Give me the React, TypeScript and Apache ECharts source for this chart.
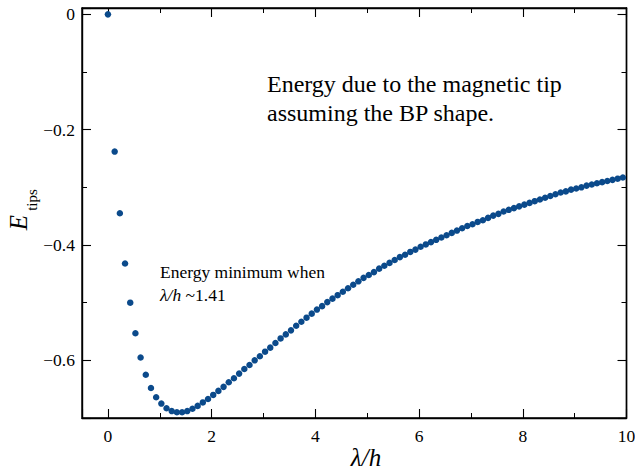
import React, { useEffect, useRef } from "react";
import * as echarts from "echarts";

const xValues = [
  0, 0.13, 0.23, 0.33, 0.43, 0.53, 0.63, 0.73, 0.83, 0.93,
  1.03, 1.13, 1.23, 1.33, 1.43, 1.53, 1.63, 1.73, 1.83, 1.93,
  2.03, 2.13, 2.23, 2.33, 2.43, 2.53, 2.63, 2.73, 2.83, 2.93,
  3.03, 3.13, 3.23, 3.33, 3.43, 3.53, 3.63, 3.73, 3.83, 3.93,
  4.03, 4.13, 4.23, 4.33, 4.43, 4.53, 4.63, 4.73, 4.83, 4.93,
  5.03, 5.13, 5.23, 5.33, 5.43, 5.53, 5.63, 5.73, 5.83, 5.93,
  6.03, 6.13, 6.23, 6.33, 6.43, 6.53, 6.63, 6.73, 6.83, 6.93,
  7.03, 7.13, 7.23, 7.33, 7.43, 7.53, 7.63, 7.73, 7.83, 7.93,
  8.03, 8.13, 8.23, 8.33, 8.43, 8.53, 8.63, 8.73, 8.83, 8.93,
  9.03, 9.13, 9.23, 9.33, 9.43, 9.53, 9.63, 9.73, 9.83, 9.93,
];

const energyValues = [
  0, -0.238, -0.345, -0.432, -0.5, -0.553, -0.595, -0.625, -0.648, -0.664,
  -0.675, -0.683, -0.688, -0.69, -0.69, -0.688, -0.684, -0.679, -0.673, -0.667,
  -0.66, -0.653, -0.646, -0.638, -0.631, -0.623, -0.615, -0.608, -0.6, -0.593,
  -0.585, -0.578, -0.57, -0.562, -0.555, -0.548, -0.54, -0.533, -0.526, -0.519,
  -0.512, -0.506, -0.499, -0.493, -0.487, -0.481, -0.475, -0.469, -0.463, -0.457,
  -0.452, -0.447, -0.441, -0.436, -0.431, -0.426, -0.421, -0.417, -0.412, -0.408,
  -0.403, -0.399, -0.395, -0.391, -0.387, -0.383, -0.379, -0.375, -0.371, -0.367,
  -0.364, -0.36, -0.357, -0.353, -0.349, -0.346, -0.342, -0.339, -0.336, -0.333,
  -0.33, -0.327, -0.324, -0.321, -0.318, -0.315, -0.312, -0.309, -0.307, -0.304,
  -0.302, -0.3, -0.297, -0.295, -0.293, -0.291, -0.289, -0.287, -0.285, -0.283,
];

const xRange = [-0.5, 10];
const yRange = [-0.7, 0.011];
const xStep = 2;
const yStep = 0.2;

const annotationMain = ["Energy due to the magnetic tip", "assuming the BP shape."];
const annotationMin = ["Energy minimum when", "{i|λ/h} ~1.41"];

const SERIF = "Liberation Serif";
const DOT = "#0b4a8b";

function fmt(v: number): string {
  if (Math.abs(v) < 1e-9) return "0";
  const s = Math.abs(v) >= 1 || Number.isInteger(v) ? String(Math.abs(v)) : Math.abs(v).toFixed(1);
  return v < 0 ? "\u2212" + s : s;
}

export default function App() {
  const ref = useRef<HTMLDivElement>(null);

  useEffect(() => {
    if (!ref.current) return;
    const chart = echarts.init(ref.current, undefined, { renderer: "svg" });

    const axisLine = { show: true, onZero: false, lineStyle: { color: "#000", width: 1.4 } };
    const axisTick = { show: true, inside: true, length: 9, lineStyle: { color: "#000", width: 1.1 } };
    const minorTick = { show: true, splitNumber: 2, length: 5, lineStyle: { color: "#000", width: 1 } };
    const labelStyle = { color: "#000", fontSize: 17.5, fontFamily: SERIF };
    const points = xValues.map((x, i) => [x, energyValues[i]]);

    chart.setOption({
      animation: false,
      grid: {
        left: 82,
        right: 8.5,
        top: 8,
        bottom: 52,
        outerBoundsMode: "none",
        show: true,
        borderColor: "#000",
        borderWidth: 1.4,
      },
      xAxis: [
        {
          type: "value",
          position: "bottom",
          min: xRange[0],
          max: xRange[1],
          minInterval: xStep,
          maxInterval: xStep,
          axisLine,
          axisTick,
          minorTick,
          splitLine: { show: false },
          axisLabel: { ...labelStyle, show: true, margin: 9, showMinLabel: false, formatter: fmt },
        },
        {
          type: "value",
          position: "top",
          min: xRange[0],
          max: xRange[1],
          minInterval: xStep,
          maxInterval: xStep,
          axisLine,
          axisTick,
          minorTick,
          splitLine: { show: false },
          axisLabel: { show: false },
        },
      ],
      yAxis: [
        {
          type: "value",
          position: "left",
          min: yRange[0],
          max: yRange[1],
          minInterval: yStep,
          maxInterval: yStep,
          axisLine,
          axisTick,
          minorTick,
          splitLine: { show: false },
          axisLabel: {
            ...labelStyle,
            show: true,
            margin: 7,
            showMinLabel: false,
            showMaxLabel: false,
            formatter: fmt,
          },
        },
        {
          type: "value",
          position: "right",
          min: yRange[0],
          max: yRange[1],
          minInterval: yStep,
          maxInterval: yStep,
          axisLine,
          axisTick,
          minorTick,
          splitLine: { show: false },
          axisLabel: { show: false },
        },
      ],
      series: [
        {
          type: "scatter",
          xAxisIndex: 0,
          yAxisIndex: 0,
          symbol: "circle",
          symbolSize: 6.5,
          itemStyle: { color: DOT, opacity: 1 },
          data: points,
        },
        {
          type: "scatter",
          xAxisIndex: 1,
          yAxisIndex: 1,
          symbolSize: 0,
          silent: true,
          data: points,
        },
      ],
      graphic: [
        {
          type: "text",
          x: 267,
          y: 83.5,
          style: { text: annotationMain[0], fontSize: 24, fontFamily: SERIF, fill: "#000", align: "left", verticalAlign: "middle" },
        },
        {
          type: "text",
          x: 267,
          y: 112.5,
          style: { text: annotationMain[1], fontSize: 24, fontFamily: SERIF, fill: "#000", align: "left", verticalAlign: "middle" },
        },
        {
          type: "text",
          x: 160,
          y: 271.5,
          style: { text: annotationMin[0], fontSize: 17.5, fontFamily: SERIF, fill: "#000", align: "left", verticalAlign: "middle" },
        },
        {
          type: "text",
          x: 160,
          y: 294.5,
          style: {
            text: annotationMin[1],
            fontSize: 17.5,
            fontFamily: SERIF,
            fill: "#000",
            align: "left",
            verticalAlign: "middle",
            rich: { i: { fontStyle: "italic", fontSize: 17.5, fontFamily: SERIF, fill: "#000" } },
          },
        },
        {
          type: "text",
          x: 366,
          y: 457.5,
          style: { text: "λ/h", fontSize: 25, fontStyle: "italic", fontFamily: SERIF, fill: "#000", align: "center", verticalAlign: "middle" },
        },
        {
          type: "text",
          x: 18,
          y: 222.5,
          rotation: Math.PI / 2,
          style: { text: "E", fontSize: 25, fontStyle: "italic", fontFamily: SERIF, fill: "#000", align: "center", verticalAlign: "middle" },
        },
        {
          type: "text",
          x: 32,
          y: 200,
          rotation: Math.PI / 2,
          style: { text: "tips", fontSize: 15, fontFamily: SERIF, fill: "#000", align: "center", verticalAlign: "middle" },
        },
      ],
    });

    return () => chart.dispose();
  }, []);

  return (
    <div
      ref={ref}
      style={{ position: "absolute", left: 0, top: 0, width: 635, height: 470 }}
    />
  );
}
